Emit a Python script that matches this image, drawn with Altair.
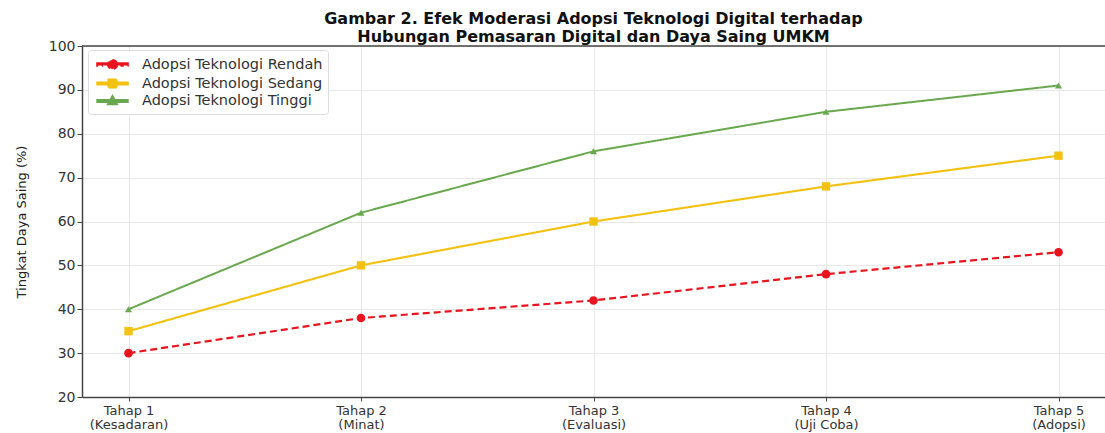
import altair as alt
import pandas as pd

stages = ["Tahap 1|(Kesadaran)", "Tahap 2|(Minat)", "Tahap 3|(Evaluasi)", "Tahap 4|(Uji Coba)", "Tahap 5|(Adopsi)"]
series_names = ["Adopsi Teknologi Rendah", "Adopsi Teknologi Sedang", "Adopsi Teknologi Tinggi"]
rendah = [30, 38, 42, 48, 53]
sedang = [35, 50, 60, 68, 75]
tinggi = [40, 62, 76, 85, 91]
y_ticks = [20, 30, 40, 50, 60, 70, 80, 90, 100]

colors = ["#e8141e", "#f3c10f", "#6aa84f"]
marker_shapes = ["circle", "square", "triangle-up"]
marker_sizes = [75, 70, 50]
dashes = [[7, 4], [1, 0], [1, 0]]

# legend glyphs: line segment + marker, as custom SVG paths (unit coords, scale = 8px)
circle_p = "M0.56,0 A0.56,0.56 0 1,0 -0.56,0 A0.56,0.56 0 1,0 0.56,0 Z"
square_p = "M-0.5,-0.5 L0.5,-0.5 L0.5,0.5 L-0.5,0.5 Z"
tri_p = "M0,-0.62 L0.56,0.42 L-0.56,0.42 Z"
def seg(a, b, t=0.13):
    return f"M{a},{-t} L{b},{-t} L{b},{t} L{a},{t} Z"
full_line = seg(-1.9, -0.5) + " " + seg(0.5, 1.9)
dash_line = seg(-1.9, -1.3) + " " + seg(-1.08, -0.55) + " " + seg(0.55, 1.08) + " " + seg(1.3, 1.9)
legend_shapes = [dash_line + " " + circle_p, full_line + " " + square_p, full_line + " " + tri_p]

rows = []
for name, vals in zip(series_names, [rendah, sedang, tinggi]):
    for s, v in zip(stages, vals):
        rows.append({"Tahap": s, "Nilai": v, "Seri": name})
df = pd.DataFrame(rows)

font = "DejaVu Sans"
y_scale = alt.Scale(domain=[20, 100], nice=False, zero=False)

x_axis = alt.Axis(title=None, labelAngle=0, labelAlign="center",
                  labelExpr="split(datum.label, '|')",
                  labelFontSize=13, labelLineHeight=14, labelColor="#333",
                  grid=True, gridColor="#e8e8e8", domainColor="#444", domainWidth=1.5,
                  tickColor="#444", tickSize=4, labelPadding=3, labelFont=font)
x_enc = alt.X("Tahap:O", sort=stages, scale=alt.Scale(type="point", padding=0.2), axis=x_axis)
y_enc = alt.Y("Nilai:Q", scale=y_scale,
              axis=alt.Axis(title="Tingkat Daya Saing (%)", values=y_ticks, labelFontSize=14,
                            labelColor="#333", titleFontSize=13, titleFontWeight="normal",
                            titleColor="#222", titlePadding=20, grid=True, gridColor="#e8e8e8",
                            domainColor="#444", domainWidth=1.5, tickColor="#444", tickSize=5,
                            labelFont=font, titleFont=font))

legend_def = alt.Legend(title=None, orient="none", legendX=6, legendY=4,
                        labelFontSize=14.5, labelFont=font, labelColor="#333", labelLimit=400,
                        fillColor="white", strokeColor="#ddd", padding=5,
                        cornerRadius=3, symbolSize=256, rowPadding=-2,
                        symbolStrokeWidth=0, symbolOffset=10, labelOffset=20)
color_enc = alt.Color("Seri:N", sort=series_names,
                      scale=alt.Scale(domain=series_names, range=colors), legend=legend_def)

legend_layer = alt.Chart(df).transform_filter("false").mark_point(
    filled=True, size=256, opacity=1, strokeWidth=0).encode(
    x=x_enc, y=y_enc,
    color=color_enc,
    shape=alt.Shape("Seri:N", sort=series_names,
                    scale=alt.Scale(domain=series_names, range=legend_shapes), legend=legend_def))

dash_enc = alt.StrokeDash("Seri:N", sort=series_names,
                          scale=alt.Scale(domain=series_names, range=dashes), legend=None)
width_enc = alt.StrokeWidth("Seri:N", scale=alt.Scale(domain=series_names, range=[2.2, 2, 1.6]),
                            legend=None)

lines = alt.Chart(df).mark_line().encode(
    x=x_enc, y=y_enc, color=color_enc, strokeDash=dash_enc, strokeWidth=width_enc,
    detail="Seri:N")

point_layers = []
for name, shp, sz in zip(series_names, marker_shapes, marker_sizes):
    point_layers.append(
        alt.Chart(df).transform_filter(alt.datum.Seri == name).mark_point(
            filled=True, size=sz, opacity=1, shape=shp).encode(
            x=x_enc, y=y_enc, color=color_enc))

top_rule = alt.Chart(pd.DataFrame({"v": [100]})).mark_rule(color="#444", strokeWidth=1.5).encode(
    y=alt.Y("v:Q", scale=y_scale))

chart = alt.layer(legend_layer, top_rule, lines, *point_layers).properties(
    width=1023, height=351,
    title=alt.TitleParams(
        text=["Gambar 2. Efek Moderasi Adopsi Teknologi Digital terhadap",
              "Hubungan Pemasaran Digital dan Daya Saing UMKM"],
        fontSize=16, fontWeight="bold", font=font, color="#111", anchor="middle",
        offset=-6, lineHeight=18),
    autosize=alt.AutoSizeParams(type="none"),
    padding={"left": 82, "top": 46, "right": 0, "bottom": 36},
).configure_view(stroke=None).configure(background="white")

chart.save("out.html", embed_options={"renderer": "svg", "actions": False})
